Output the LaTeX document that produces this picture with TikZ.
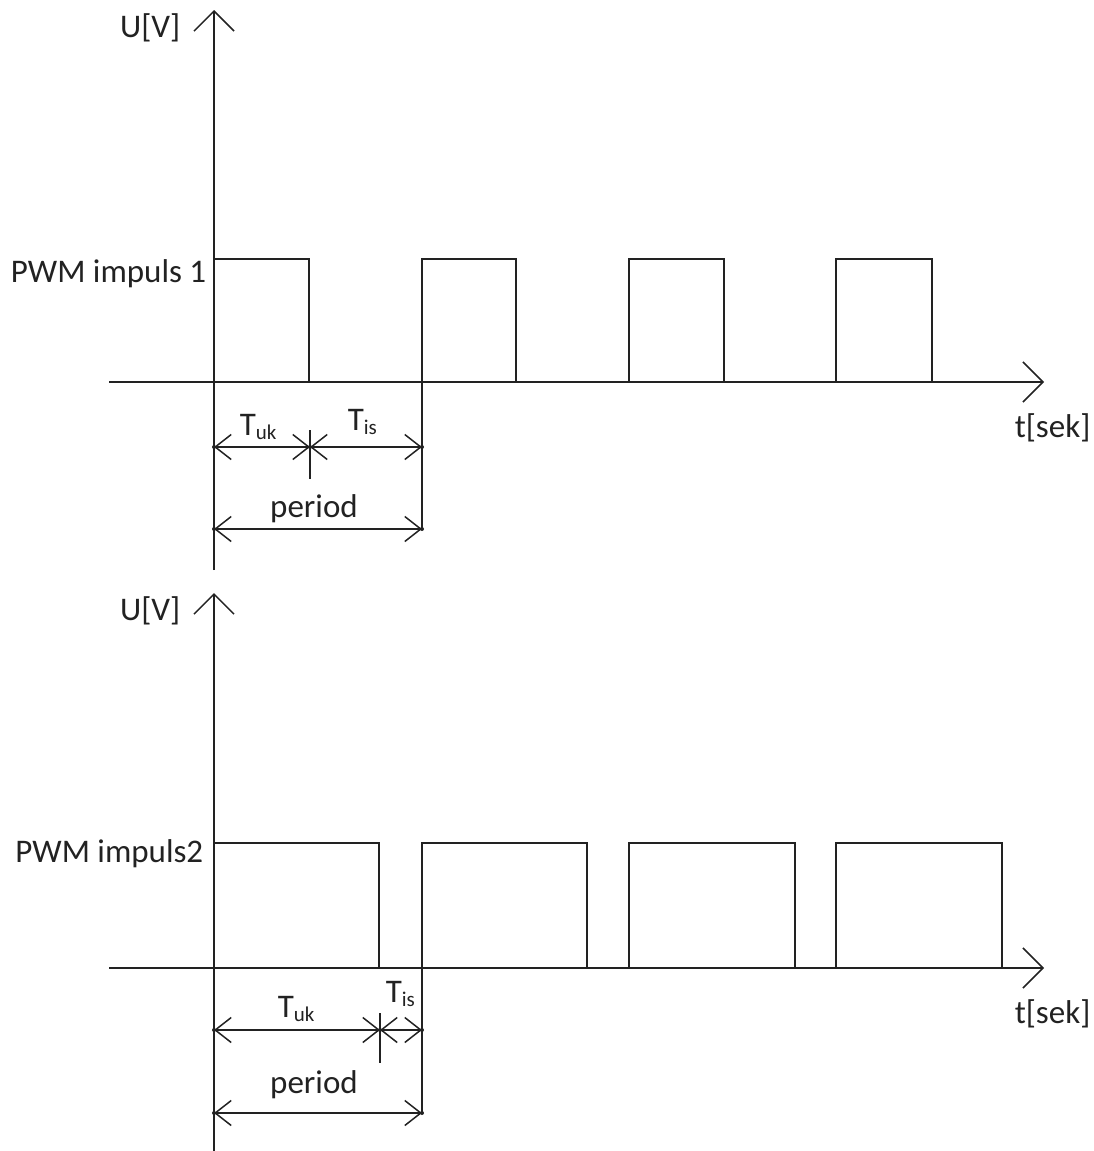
\documentclass[tikz,border=0pt]{standalone}
\usepackage{fontspec}
\setmainfont{Carlito}
\usetikzlibrary{arrows.meta}
\definecolor{ink}{HTML}{222222}
\newcommand{\Tsub}[1]{T\raisebox{-0.3ex}{\fontsize{21}{23}\selectfont #1}}
\begin{document}
\begin{tikzpicture}[x=1pt,y=-1pt,line width=1.5pt,draw=ink,
  axisarrow/.style={-{Straight Barb[length=20pt,width=40pt]}},
  dimarrow/.style={{Straight Barb[length=16pt,width=25pt]}-{Straight Barb[length=16pt,width=25pt]}},
  lbl/.style={font=\fontsize{33}{38}\selectfont,inner sep=0pt,text=ink},
  dot/.style={circle,fill=ink,inner sep=0pt,minimum size=4pt}]
\useasboundingbox (0,0) rectangle (1093,1151);

% ===== top diagram =====
\coordinate (y1b) at (214,570);
\coordinate (y1t) at (214,10);
\coordinate (x1l) at (109,382);
\coordinate (x1r) at (1044,382);
\draw[axisarrow] (y1b) -- (y1t);
\draw[axisarrow] (x1l) -- (x1r);
\node[lbl,anchor=base east] (u1) at (181,37) {U[V]};
\node[lbl,anchor=base west] (t1) at (1014,437) {t[sek]};
\node[lbl,anchor=base east] (p1) at (207,282) {PWM impuls 1};

% pulses
\draw (214,259) -- (309,259) -- (309,382);
\draw (422,529) -- (422,259) -- (516,259) -- (516,382);
\draw (629,382) -- (629,259) -- (724,259) -- (724,382);
\draw (836,382) -- (836,259) -- (932,259) -- (932,382);

% dimensions
\coordinate (a1) at (214,447);
\coordinate (m1) at (310,447);
\coordinate (b1) at (422,447);
\coordinate (pa1) at (214,529);
\coordinate (pb1) at (422,529);
\draw[dimarrow] (a1) -- (m1);
\draw[dimarrow] (m1) -- (b1);
\draw (310,430) -- (310,479);
\draw[dimarrow] (pa1) -- (pb1);
\foreach \c in {a1,m1,b1,pa1,pb1} \node[dot] at (\c) {};
\node[lbl,anchor=base west] (tuk1) at (239,435) {\Tsub{uk}};
\node[lbl,anchor=base west] (tis1) at (347,430) {\Tsub{is}};
\node[lbl,anchor=base] (per1) at (314,517) {period};

% ===== bottom diagram =====
\coordinate (y2b) at (214,1151);
\coordinate (y2t) at (214,593);
\coordinate (x2l) at (109,968);
\coordinate (x2r) at (1044,968);
\draw[axisarrow] (y2b) -- (y2t);
\draw[axisarrow] (x2l) -- (x2r);
\node[lbl,anchor=base east] (u2) at (181,620) {U[V]};
\node[lbl,anchor=base west] (t2) at (1014,1023) {t[sek]};
\node[lbl,anchor=base east] (p2) at (204,862) {PWM impuls2};

\draw (214,843) -- (379,843) -- (379,968);
\draw (422,1113) -- (422,843) -- (587,843) -- (587,968);
\draw (629,968) -- (629,843) -- (795,843) -- (795,968);
\draw (836,968) -- (836,843) -- (1002,843) -- (1002,968);

\coordinate (a2) at (214,1030);
\coordinate (m2) at (380,1030);
\coordinate (b2) at (422,1030);
\coordinate (pa2) at (214,1113);
\coordinate (pb2) at (422,1113);
\draw[dimarrow] (a2) -- (m2);
\draw[dimarrow] (m2) -- (b2);
\draw (380,1013) -- (380,1063);
\draw[dimarrow] (pa2) -- (pb2);
\foreach \c in {a2,m2,b2,pa2,pb2} \node[dot] at (\c) {};
\node[lbl,anchor=base west] (tuk2) at (277,1017) {\Tsub{uk}};
\node[lbl,anchor=base west] (tis2) at (385,1002) {\Tsub{is}};
\node[lbl,anchor=base] (per2) at (314,1093) {period};
\end{tikzpicture}
\end{document}
